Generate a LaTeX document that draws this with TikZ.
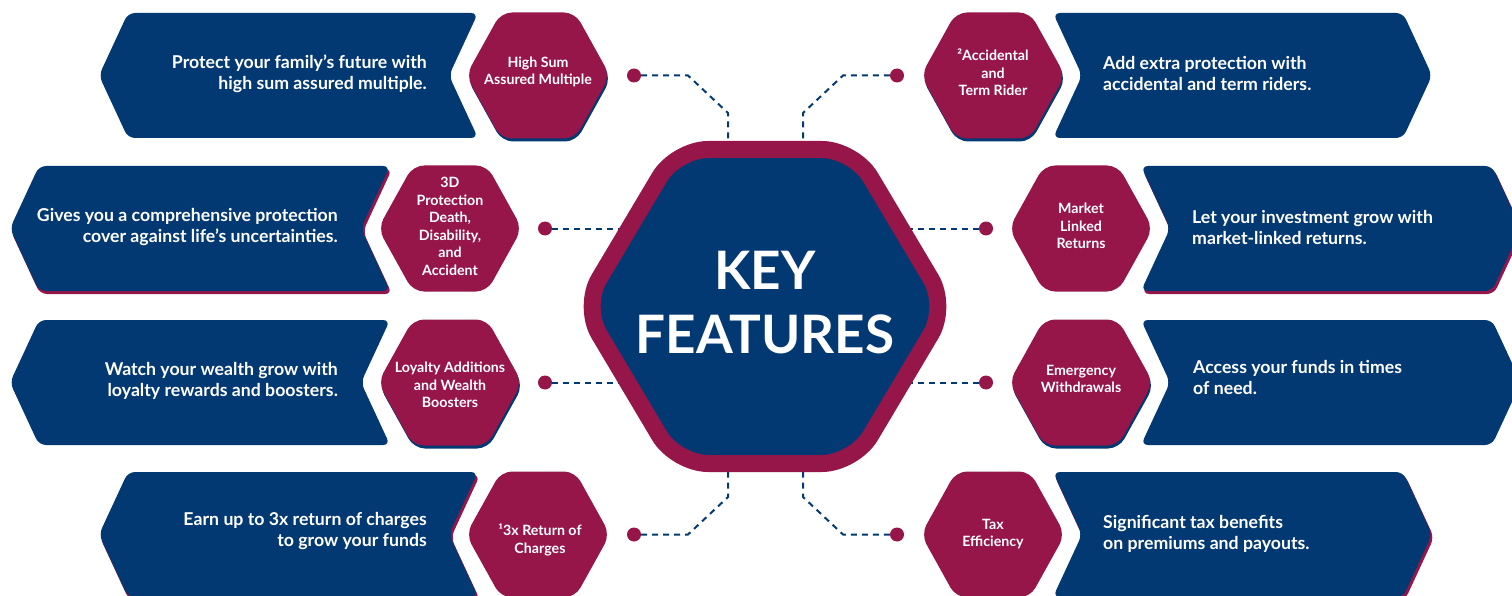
\documentclass[tikz,border=0pt]{standalone}
\usepackage{fontspec}
\setmainfont{Lato}
\definecolor{navy}{RGB}{3,57,115}
\definecolor{crim}{RGB}{150,22,74}
\newcommand\lban[4]{({#1+29},#3) -- (#2,#3) -- ({#2-29},{(#3+#4)/2}) -- (#2,#4) -- ({#1+29},#4) -- (#1,{(#3+#4)/2}) -- cycle}
\newcommand\rban[4]{(#1,#3) -- ({#2-29},#3) -- (#2,{(#3+#4)/2}) -- ({#2-29},#4) -- (#1,#4) -- ({#1+29},{(#3+#4)/2}) -- cycle}
\newcommand\hexp[2]{({#1-37},{#2-63}) -- ({#1+37},{#2-63}) -- ({#1+72},#2) -- ({#1+37},{#2+63}) -- ({#1-37},{#2+63}) -- ({#1-72},#2) -- cycle}
\tikzset{
  banner/.style={fill=navy, rounded corners=7pt},
  bshadow/.style={fill=crim, rounded corners=7pt},
  hexa/.style={fill=crim, rounded corners=11pt},
  hshadow/.style={fill=navy, rounded corners=11pt},
  btextl/.style={text=white, font=\bfseries\fontsize{17.7}{21}\selectfont, align=right, anchor=east, inner sep=0pt},
  btextr/.style={text=white, font=\bfseries\fontsize{17.7}{21}\selectfont, align=left, anchor=west, inner sep=0pt},
  htext/.style={text=white, font=\bfseries\fontsize{14.2}{17.5}\selectfont, align=center, inner sep=0pt},
  conn/.style={draw=navy, line width=2pt, dash pattern=on 6pt off 5pt},
  cdot/.style={circle, fill=crim, inner sep=0pt, minimum size=14pt},
  bighex/.style={draw=crim, fill=navy, line width=17pt, rounded corners=32pt},
  keytext/.style={text=white, font=\bfseries\fontsize{53}{64}\selectfont, align=center, inner sep=0pt},
}
\begin{document}
\begin{tikzpicture}[x=1pt,y=-1pt]
\useasboundingbox (0,0) rectangle (1512,596);
\clip (0,0) rectangle (1512,596);
% connector bend points
\coordinate (a1) at (688,75.5);  \coordinate (b1) at (728,113);  \coordinate (e1) at (728,145);
\coordinate (a5) at (843,75.5);  \coordinate (b5) at (803,113);  \coordinate (e5) at (803,145);
\coordinate (a4) at (688,534.5); \coordinate (b4) at (728,497);  \coordinate (e4) at (728,468);
\coordinate (a8) at (843,534.5); \coordinate (b8) at (803,497);  \coordinate (e8) at (803,468);
\coordinate (e2) at (626,228.5); \coordinate (e3) at (626,382.5);
\coordinate (e6) at (905,228.5); \coordinate (e7) at (905,382.5);
% dots
\node[cdot] (d1) at (634,75.5) {};
\node[cdot] (d2) at (545,228.5) {};
\node[cdot] (d3) at (545,382.5) {};
\node[cdot] (d4) at (634,534.5) {};
\node[cdot] (d5) at (897,75.5) {};
\node[cdot] (d6) at (986,228.5) {};
\node[cdot] (d7) at (986,382.5) {};
\node[cdot] (d8) at (897,534.5) {};
% connectors
\draw[conn] (d1.east) -- (a1) -- (b1) -- (e1);
\draw[conn] (d5.west) -- (a5) -- (b5) -- (e5);
\draw[conn] (d4.east) -- (a4) -- (b4) -- (e4);
\draw[conn] (d8.west) -- (a8) -- (b8) -- (e8);
\draw[conn] (d2.east) -- (e2);
\draw[conn] (d3.east) -- (e3);
\draw[conn] (d6.west) -- (e6);
\draw[conn] (d7.west) -- (e7);
% central hexagon
\draw[bighex] (676,149.5) -- (854,149.5) -- (947.4,306.5) -- (854,463.5) -- (676,463.5) -- (582.6,306.5) -- cycle;
\node[keytext] (key) at (765,302.5) {KEY\\FEATURES};
% left banners
\fill[banner] \lban{99}{478}{13}{138};
\fill[bshadow] \lban{11}{392}{169}{294};
\fill[banner] \lban{10}{390}{166}{291};
\fill[banner] \lban{10}{390}{320}{445};
\fill[bshadow] \lban{100}{480}{475}{600};
\fill[banner] \lban{99}{478}{472}{597};
% right banners
\fill[banner] \rban{1053}{1432}{13}{138};
\fill[bshadow] \rban{1142}{1523}{169}{294};
\fill[banner] \rban{1141}{1521}{166}{291};
\fill[banner] \rban{1141}{1521}{320}{445};
\fill[bshadow] \rban{1054}{1434}{475}{600};
\fill[banner] \rban{1053}{1432}{472}{597};
% hexagons
\fill[hshadow] \hexp{539}{78.5};
\fill[hexa] \hexp{538}{75.5};
\fill[hexa] \hexp{450}{228.5};
\fill[hshadow] \hexp{451}{385.5};
\fill[hexa] \hexp{450}{382.5};
\fill[hexa] \hexp{538}{534.5};
\fill[hshadow] \hexp{994}{78.5};
\fill[hexa] \hexp{993}{75.5};
\fill[hexa] \hexp{1081}{228.5};
\fill[hshadow] \hexp{1082}{385.5};
\fill[hexa] \hexp{1081}{382.5};
\fill[hexa] \hexp{993}{534.5};
% banner texts
\node[btextl] (t1) at (427,73.5) {Protect your family’s future with\\high sum assured multiple.};
\node[btextl] (t2) at (338,227) {Gives you a comprehensive protection\\cover against life’s uncertainties.};
\node[btextl] (t3) at (338,381) {Watch your wealth grow with\\loyalty rewards and boosters.};
\node[btextl] (t4) at (427,531.5) {Earn up to 3x return of charges\\to grow your funds};
\node[btextr] (t5) at (1103,73.5) {Add extra protection with\\accidental and term riders.};
\node[btextr] (t6) at (1192,227) {Let your investment grow with\\market-linked returns.};
\node[btextr] (t7) at (1193,377.5) {Access your funds in times\\of need.};
\node[btextr] (t8) at (1103,534) {Significant tax benefits\\on premiums and payouts.};
% hexagon labels
\node[htext] (h1) at (538,72) {High Sum\\Assured Multiple};
\node[htext] (h2) at (450,226.5) {3D\\Protection\\Death,\\Disability,\\and\\Accident};
\node[htext] (h3) at (450,385) {Loyalty Additions\\and Wealth\\Boosters};
\node[htext] (h4) at (540,540) {¹3x Return of\\Charges};
\node[htext] (h5) at (993,72.5) {²Accidental\\and\\Term Rider};
\node[htext] (h6) at (1081,226) {Market\\Linked\\Returns};
\node[htext] (h7) at (1081,379) {Emergency\\Withdrawals};
\node[htext] (h8) at (993,534) {Tax\\Efficiency};
\end{tikzpicture}
\end{document}
